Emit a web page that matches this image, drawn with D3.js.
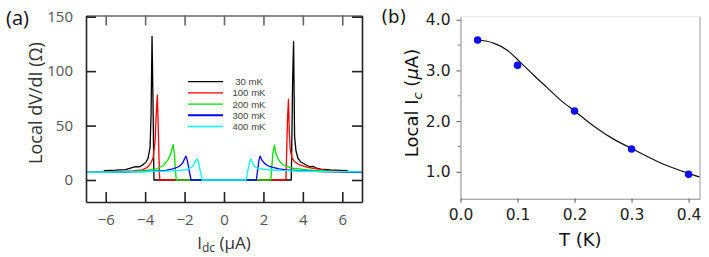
<!DOCTYPE html>
<html>
<head>
<meta charset="utf-8">
<script src="https://cdn.jsdelivr.net/npm/d3@7"></script>
<style>
  body { margin: 0; background: #fff; }
  svg { display: block; }
</style>
</head>
<body>
<svg></svg>
<script>
var width = 709;
var height = 257;

// panel (a): dV/dI vs Idc, one array of [Idc, dV/dI] per temperature
var tempLabels = ["30 mK", "100 mK", "200 mK", "300 mK", "400 mK"];
var tempColors = ["#000000", "#ff0000", "#00e000", "#0000ff", "#00ffff"];

var curve30 = [[-6.1, 8.6], [-5.5, 9.0], [-5.0, 9.6], [-4.7, 11.2], [-4.48, 12.3], [-4.3, 12.0], [-4.14, 13.6],
  [-3.95, 16.5], [-3.85, 20], [-3.75, 30], [-3.7, 60], [-3.65, 132], [-3.6, 70], [-3.56, 8], [-3.55, 0],
  [3.41, 0], [3.43, 20], [3.48, 90], [3.53, 127], [3.58, 40], [3.65, 27], [3.75, 20], [3.9, 16.5],
  [4.17, 13.8], [4.35, 12.2], [4.52, 12.4], [4.7, 11.0], [4.9, 10.0], [5.4, 9.2], [5.9, 8.8], [6.3, 8.5]];
var curve100 = [[-7, 7.1], [-6, 7.3], [-5.3, 7.7], [-4.6, 8.4], [-4.14, 9.3], [-3.9, 11.5], [-3.72, 15.3],
  [-3.6, 20], [-3.5, 35], [-3.44, 60], [-3.38, 78], [-3.33, 45], [-3.28, 8], [-3.26, 0],
  [3.14, 0], [3.17, 20], [3.22, 55], [3.27, 74], [3.31, 45], [3.36, 28], [3.45, 20], [3.6, 16.5],
  [3.84, 13.8], [4.2, 11.8], [4.52, 10.7], [5.19, 8.9], [6, 8.0], [7, 7.6]];
var curve200 = [[-7, 7.1], [-5, 7.5], [-4.14, 8.3], [-3.46, 9.9], [-3.04, 13.8], [-2.85, 18.5], [-2.72, 23],
  [-2.62, 30], [-2.58, 32.5], [-2.52, 25], [-2.46, 8], [-2.42, 0],
  [2.37, 0], [2.41, 8], [2.48, 25], [2.56, 32], [2.62, 25], [2.73, 19.9], [2.85, 16.5], [2.99, 14.0],
  [3.2, 12.2], [3.5, 10.8], [4.0, 9.7], [4.52, 8.9], [5.5, 8.0], [7, 7.3]];
var curve300 = [[-7, 7.0], [-5, 7.3], [-3.5, 8.2], [-2.95, 8.9], [-2.6, 10.2], [-2.27, 12.4], [-2.1, 15.5],
  [-2.0, 19.5], [-1.93, 22], [-1.86, 18], [-1.76, 8], [-1.67, 0],
  [1.64, 0], [1.7, 8], [1.77, 18], [1.83, 22], [1.9, 19], [2.05, 15.3], [2.25, 12.8], [2.48, 11.6],
  [2.8, 10.2], [3.16, 9.2], [4.0, 8.3], [4.85, 7.7], [7, 7.1]];
var curve400 = [[-7, 7.0], [-4, 7.6], [-2.6, 8.4], [-1.93, 9.3], [-1.75, 10.8], [-1.6, 12.4], [-1.5, 15.5],
  [-1.42, 18.2], [-1.36, 19.4], [-1.29, 16], [-1.2, 8], [-1.11, 0],
  [1.13, 0], [1.2, 8], [1.3, 16.5], [1.37, 19.3], [1.45, 15.5], [1.54, 12.6], [1.7, 10.8], [1.97, 9.9],
  [2.5, 9.2], [3.16, 8.7], [4.5, 8.0], [7, 7.4]];
var curvesA = [curve30, curve100, curve200, curve300, curve400];

var xTicksA = [-6, -4, -2, 0, 2, 4, 6];
var yTicksA = [0, 50, 100, 150];

// panel (b): critical current vs temperature
var tempK = [0.03, 0.1, 0.2, 0.3, 0.4];
var localIc = [3.6, 3.1, 2.2, 1.45, 0.95];
var fitT = [0.03, 0.058, 0.082, 0.105, 0.128, 0.152, 0.175, 0.2, 0.234, 0.269, 0.3, 0.35, 0.4, 0.419];
var fitIc = [3.6, 3.54, 3.4, 3.16, 2.91, 2.66, 2.42, 2.2, 1.9, 1.64, 1.46, 1.18, 0.97, 0.9];
var xTicksB = [0.0, 0.1, 0.2, 0.3, 0.4];
var yTicksB = [1.0, 2.0, 3.0, 4.0];
var yMinorB = [1.5, 2.5, 3.5];

var svg = d3.select("svg").attr("width", width).attr("height", height);

// ---------- panel (a) ----------
var xa = d3.scaleLinear().domain([-7, 7]).range([86, 362]);
var ya = d3.scaleLinear().domain([-20.2, 151.1]).range([202, 15.5]);

var fontA = "'Open Sans', 'DejaVu Sans', sans-serif";
var ga = svg.append("g");

var lineA = d3.line().x(function(d) { return xa(d[0]); }).y(function(d) { return ya(d[1]); });

curvesA.forEach(function(c, i) {
  ga.append("path")
    .attr("d", lineA(c))
    .attr("fill", "none")
    .attr("stroke", tempColors[i])
    .attr("stroke-width", 1.3)
    .attr("stroke-linejoin", "round");
});

function styleAxisA(g, color) {
  g.select(".domain").attr("stroke", color).attr("stroke-width", 1.6);
  g.selectAll(".tick line").attr("stroke", color).attr("stroke-width", 1.6);
  g.selectAll(".tick text").attr("fill", "#555").style("font-family", fontA).style("font-size", "15px");
}

var axBottom = ga.append("g").attr("transform", "translate(0,202)")
  .call(d3.axisBottom(xa).tickValues(xTicksA).tickSizeInner(-10).tickSizeOuter(0).tickPadding(12)
    .tickFormat(function(d) { return d < 0 ? "\u2212" + Math.abs(d) : d; }));
styleAxisA(axBottom, "#222");

var axTop = ga.append("g").attr("transform", "translate(0,15.5)")
  .call(d3.axisTop(xa).tickValues(xTicksA).tickSizeInner(-10).tickSizeOuter(0).tickFormat(""));
styleAxisA(axTop, "#666");

var axLeft = ga.append("g").attr("transform", "translate(86,0)")
  .call(d3.axisLeft(ya).tickValues(yTicksA).tickSizeInner(-10).tickSizeOuter(0).tickPadding(13));
styleAxisA(axLeft, "#222");

var axRight = ga.append("g").attr("transform", "translate(362,0)")
  .call(d3.axisRight(ya).tickValues(yTicksA).tickSizeInner(-10).tickSizeOuter(0).tickFormat(""));
styleAxisA(axRight, "#222");

// legend
var legend = ga.append("g");
tempLabels.forEach(function(t, i) {
  var y = 81.7 + i * 11.2;
  legend.append("line").attr("x1", 188).attr("x2", 223).attr("y1", y).attr("y2", y)
    .attr("stroke", tempColors[i]).attr("stroke-width", i === 3 ? 2 : 1.3);
  legend.append("text").attr("x", 249).attr("y", y + 3.5).attr("text-anchor", "middle")
    .attr("fill", "#444").style("font-family", "'Liberation Sans', sans-serif").style("font-size", "9.6px").text(t);
});

// axis labels
var xlabA = ga.append("text").attr("x", 224).attr("y", 249).attr("text-anchor", "middle")
  .attr("fill", "#333").style("font-family", fontA).style("font-size", "17px");
xlabA.append("tspan").text("I");
xlabA.append("tspan").attr("dy", 3).style("font-size", "12px").text("dc");
xlabA.append("tspan").attr("dy", -3).text(" (\u03bcA)");

ga.append("text").attr("transform", "translate(42,103) rotate(-90)").attr("text-anchor", "middle")
  .attr("fill", "#333").style("font-family", fontA).style("font-size", "18px").text("Local dV/dI (\u03a9)");

ga.append("text").attr("x", 6).attr("y", 25).attr("fill", "#111")
  .style("font-family", fontA).style("font-size", "20px").text("(a)");

// ---------- panel (b) ----------
var xb = d3.scaleLinear().domain([0, 0.42]).range([460.5, 700]);
var yb = d3.scaleLinear().domain([0.47, 4.06]).range([198.7, 16.7]);
var fontB = "'DejaVu Sans', sans-serif";
var gb = svg.append("g");

// frame
gb.append("line").attr("x1", xb(0)).attr("x2", xb(0.42)).attr("y1", yb(4.06)).attr("y2", yb(4.06))
  .attr("stroke", "#e4e4e4").attr("stroke-width", 1);
gb.append("line").attr("x1", xb(0.42)).attr("x2", xb(0.42)).attr("y1", yb(4.06)).attr("y2", yb(0.47))
  .attr("stroke", "#999").attr("stroke-width", 1);

function styleAxisB(g) {
  g.select(".domain").attr("stroke", "#888").attr("stroke-width", 1);
  g.selectAll(".tick line").attr("stroke", "#555").attr("stroke-width", 1);
  g.selectAll(".tick text").attr("fill", "#222").style("font-family", fontB).style("font-size", "15.5px");
}

var bxAxis = gb.append("g").attr("transform", "translate(0," + yb(0.47) + ")")
  .call(d3.axisBottom(xb).tickValues(xTicksB).tickSize(4).tickSizeOuter(0).tickPadding(6)
    .tickFormat(d3.format(".1f")));
styleAxisB(bxAxis);

var byAxis = gb.append("g").attr("transform", "translate(" + xb(0) + ",0)")
  .call(d3.axisLeft(yb).tickValues(yTicksB).tickSize(4).tickSizeOuter(0).tickPadding(6)
    .tickFormat(d3.format(".1f")));
styleAxisB(byAxis);

gb.selectAll(".minor").data(yMinorB).enter().append("line")
  .attr("x1", xb(0) - 2.5).attr("x2", xb(0))
  .attr("y1", function(d) { return yb(d); }).attr("y2", function(d) { return yb(d); })
  .attr("stroke", "#555").attr("stroke-width", 0.8);

var fitLine = d3.line().curve(d3.curveMonotoneX)
  .x(function(d, i) { return xb(fitT[i]); }).y(function(d) { return yb(d); });
gb.append("path").attr("d", fitLine(fitIc)).attr("fill", "none").attr("stroke", "#111").attr("stroke-width", 1.2);

gb.selectAll(".dot").data(localIc).enter().append("circle")
  .attr("cx", function(d, i) { return xb(tempK[i]); })
  .attr("cy", function(d) { return yb(d); })
  .attr("r", 3.8)
  .attr("fill", "#1010ee");

gb.append("text").attr("x", xb(0.21)).attr("y", 246).attr("text-anchor", "middle")
  .attr("fill", "#111").style("font-family", fontB).style("font-size", "18px").text("T (K)");

var ylabB = gb.append("text").attr("transform", "translate(418,103) rotate(-90)").attr("text-anchor", "middle")
  .attr("fill", "#111").style("font-family", fontB).style("font-size", "18px");
ylabB.append("tspan").text("Local I");
ylabB.append("tspan").attr("dy", 4).style("font-size", "13px").style("font-style", "italic").text("c");
ylabB.append("tspan").attr("dy", -4).text(" (");
ylabB.append("tspan").style("font-style", "italic").text("\u03bc");
ylabB.append("tspan").text("A)");

gb.append("text").attr("x", 381).attr("y", 23).attr("fill", "#111")
  .style("font-family", fontB).style("font-size", "18px").text("(b)");
</script>
</body>
</html>
